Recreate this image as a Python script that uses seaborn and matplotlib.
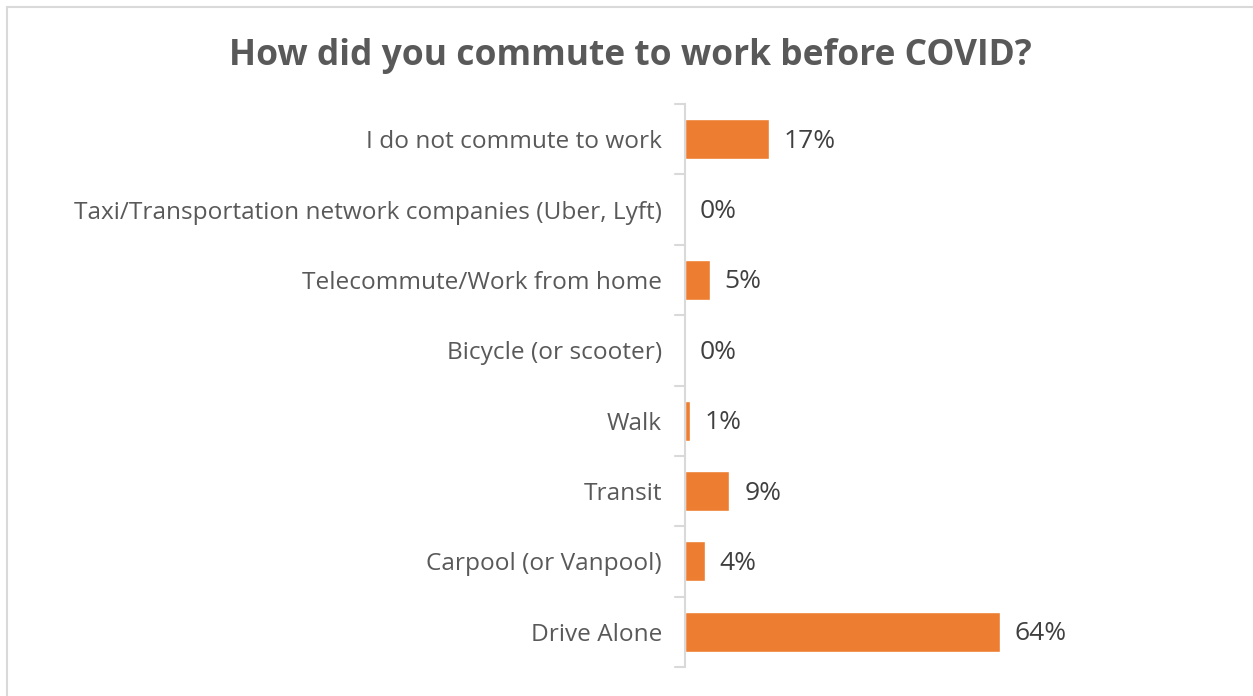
import matplotlib
matplotlib.use("Agg")
import matplotlib.pyplot as plt
import seaborn as sns
import pandas as pd
from matplotlib.lines import Line2D

categories = [
    "I do not commute to work",
    "Taxi/Transportation network companies (Uber, Lyft)",
    "Telecommute/Work from home",
    "Bicycle (or scooter)",
    "Walk",
    "Transit",
    "Carpool (or Vanpool)",
    "Drive Alone",
]
values = [17, 0, 5, 0, 1, 9, 4, 64]
value_labels = ["17%", "0%", "5%", "0%", "1%", "9%", "4%", "64%"]

df = pd.DataFrame({"mode": categories, "pct": values})

sns.set_theme(style="white")
plt.rcParams["font.family"] = ["Open Sans", "DejaVu Sans"]

W, H = 1253, 696
fig = plt.figure(figsize=(W / 100, H / 100), dpi=100)
ax = fig.add_axes([685 / W, 1 - 667 / H, (1029 - 685) / W, (667 - 104) / H])

sns.barplot(data=df, y="mode", x="pct", color="#ED7D31", saturation=1,
            width=0.57, orient="h", ax=ax)

ax.set_xlim(0, 70)
ax.set_ylim(len(categories) - 0.5, -0.5)
ax.set_xlabel("")
ax.set_ylabel("")
ax.set_xticks([])
for s in ["top", "right", "bottom"]:
    ax.spines[s].set_visible(False)
ax.spines["left"].set_color("#D9D9D9")
ax.spines["left"].set_linewidth(1.5)

# category-boundary ticks
ax.set_yticks(range(len(categories)))
ax.set_yticklabels(categories, color="#595959", fontsize=17.6)
ax.tick_params(axis="y", length=0, pad=16.5)
for b in [i - 0.5 for i in range(len(categories) + 1)]:
    ax.plot([-0.03, 0], [b, b], transform=ax.get_yaxis_transform(),
            color="#D9D9D9", lw=1.5, clip_on=False)

for i, (v, lab) in enumerate(zip(values, value_labels)):
    ax.annotate(lab, xy=(v, i), xytext=(15, -2), textcoords="offset pixels",
                va="center", ha="left", fontsize=19, color="#404040")

fig.text(630 / W, 1 - 65 / H, "How did you commute to work before COVID?",
         ha="center", va="baseline", fontsize=25.5, fontweight="bold", color="#595959")

# outer border (top and left visible)
fig.add_artist(Line2D([7 / W, 1.0], [1 - 7 / H, 1 - 7 / H], transform=fig.transFigure,
                      color="#D9D9D9", lw=1.5))
fig.add_artist(Line2D([7 / W, 7 / W], [0, 1 - 7 / H], transform=fig.transFigure,
                      color="#D9D9D9", lw=1.5))

fig.savefig("out.png", dpi=100, facecolor="white")
